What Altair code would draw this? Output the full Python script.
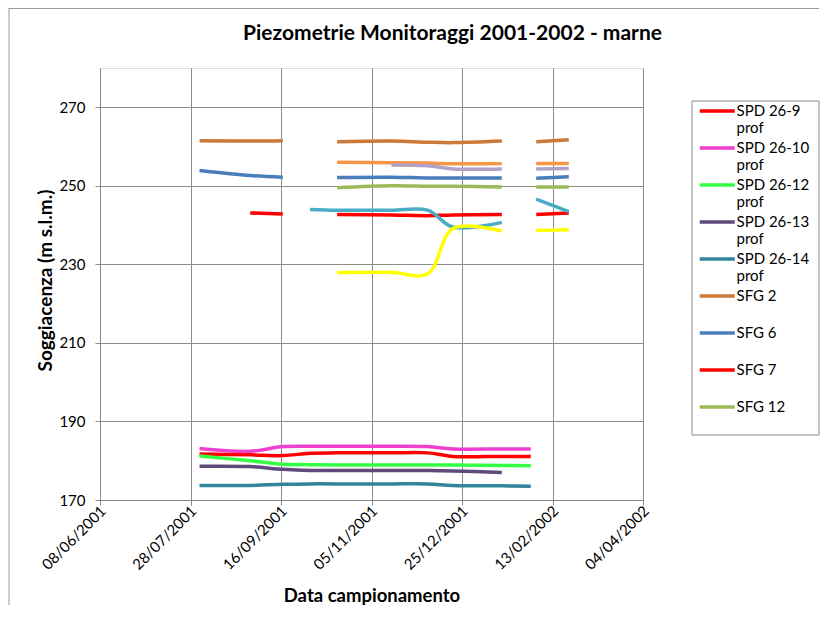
import altair as alt
import pandas as pd

# ---- data -------------------------------------------------------------
dates = ["2001-08-02", "2001-08-30", "2001-09-17", "2001-10-02", "2001-10-17",
         "2001-11-16", "2001-12-06", "2001-12-20", "2002-01-16", "2002-02-01",
         "2002-02-04", "2002-02-22"]

spd_26_9 = [181.7, 181.5, 181.3, 181.9, 182.0, 182.0, 182.0, 181.1, 181.1, 181.1, None, None]
spd_26_10 = [183.1, 182.4, 183.6, 183.7, 183.7, 183.7, 183.6, 183.0, 183.0, 183.0, None, None]
spd_26_12 = [181.2, 180.0, 179.1, 179.0, 178.9, 178.9, 178.9, 178.9, 178.8, 178.7, None, None]
spd_26_13 = [178.6, 178.5, 177.8, 177.5, 177.5, 177.5, 177.5, 177.4, 177.0, None, None, None]
spd_26_14 = [173.7, 173.7, 174.0, 174.1, 174.1, 174.1, 174.1, 173.7, 173.6, 173.5, None, None]
sfg_2 = [261.5, 261.4, 261.5, None, 261.2, 261.4, 261.1, 261.0, 261.4, None, 261.2, 261.7]
sfg_6 = [253.9, 252.6, 252.2, None, 252.1, 252.2, 252.0, 252.0, 252.0, None, 251.9, 252.3]
sfg_7 = [None, 243.1, 242.8, None, 242.7, 242.6, 242.4, 242.6, 242.7, None, 242.7, 243.1]
sfg_12 = [None, None, None, None, 249.5, 250.0, 249.9, 249.9, 249.7, None, 249.7, 249.7]
serie_10 = [None, None, None, None, 256.0, 255.9, 255.8, 255.6, 255.7, None, 255.7, 255.7]
serie_11 = [None, None, None, None, None, 255.3, 255.1, 254.3, 254.3, None, 254.3, 254.4]
serie_12 = [None, None, None, 244.0, 243.8, 243.8, 243.8, 239.5, 240.7, None, 246.6, 243.4]
serie_13 = [None, None, None, None, 227.9, 228.0, 227.6, 239.1, 238.5, None, 238.6, 238.8]

series_names = ["SPD 26-9 prof", "SPD 26-10 prof", "SPD 26-12 prof", "SPD 26-13 prof",
                "SPD 26-14 prof", "SFG 2", "SFG 6", "SFG 7", "SFG 12",
                "Serie 10", "Serie 11", "Serie 12", "Serie 13"]
series_values = [spd_26_9, spd_26_10, spd_26_12, spd_26_13, spd_26_14, sfg_2, sfg_6,
                 sfg_7, sfg_12, serie_10, serie_11, serie_12, serie_13]
series_colors = ["#ff0000", "#ee3fcf", "#33ff44", "#604a7b", "#31859c", "#cc7a3a",
                 "#4a7ebb", "#ff0000", "#9bbb59", "#f79646", "#b3a2c7", "#4bacc6",
                 "#ffff00"]

y_ticks = [170, 190, 210, 230, 250, 270]
x_ticks = [(2001, 6, 8), (2001, 7, 28), (2001, 9, 16), (2001, 11, 5),
           (2001, 12, 25), (2002, 2, 13), (2002, 4, 4)]

# ---- table: split every series into contiguous segments ----------------
rows = []
for idx, (name, vals) in enumerate(zip(series_names, series_values)):
    seg = 0
    for d, v in zip(dates, vals):
        if v is None:
            seg += 1
            continue
        rows.append({"date": d, "value": v, "series": name,
                     "seg": f"{name}_{seg}", "ord": idx})
df = pd.DataFrame(rows)

FONT = "Lato"
W, H = 543, 432

x_vals = [alt.DateTime(year=y, month=m, date=d, utc=True) for (y, m, d) in x_ticks]

lines = alt.Chart(df).mark_line(
    interpolate="catmull-rom", strokeWidth=3.5, strokeCap="butt"
).encode(
    x=alt.X("date:T",
            scale=alt.Scale(type="utc", domain=[x_vals[0], x_vals[-1]], nice=False),
            axis=alt.Axis(values=x_vals,
                          labelExpr="utcFormat(datum.value, '%d/%m/%Y')",
                          labelAngle=-45, labelAlign="right", labelBaseline="middle",
                          labelFont=FONT, labelFontSize=15, labelColor="#000",
                          labelPadding=3, labelOffset=3,
                          tickSize=5, tickColor="#888", domainColor="#888",
                          gridColor="#8c8c8c", labelOverlap=False,
                          title="Data campionamento", titleFont=FONT,
                          titleFontSize=18.5, titleFontWeight="bold", titleColor="#000",
                          titleX=W / 2, titleY=95, titleBaseline="middle")),
    y=alt.Y("value:Q",
            scale=alt.Scale(domain=[170, 280], nice=False, zero=False),
            axis=alt.Axis(values=y_ticks, labelFont=FONT, labelFontSize=15,
                          labelColor="#000", labelPadding=10, tickSize=5,
                          tickColor="#888", domainColor="#888", gridColor="#8c8c8c",
                          title="Soggiacenza (m s.l.m.)", titleFont=FONT,
                          titleFontSize=19, titleFontWeight="bold", titleColor="#000",
                          titleX=-55, titleY=H / 2 - 4, titleBaseline="middle")),
    color=alt.Color("series:N",
                    scale=alt.Scale(domain=series_names, range=series_colors),
                    legend=alt.Legend(
                        orient="none", legendX=615.5, legendY=32.5, title=None,
                        values=series_names[:9],
                        symbolType="M-3,0L1,0", symbolSize=306, symbolStrokeWidth=3.5,
                        labelFont=FONT, labelFontSize=15, labelColor="#000",
                        labelOffset=0, rowPadding=1, padding=0, labelLimit=200,
                        labelExpr="indexof(datum.label, ' prof') > 0 ? [replace(datum.label, ' prof', ''), 'prof'] : [datum.label, ' ']")),
    detail="seg:N",
    order=alt.Order("date:T"),
)

deco = pd.DataFrame({"k": [0]})
legend_box = alt.Chart(deco).mark_rect(fillOpacity=0, stroke="#888", strokeWidth=1).encode(
    x=alt.value(592), x2=alt.value(719), y=alt.value(33), y2=alt.value(367))
frame_left = alt.Chart(deco).mark_rule(color="#999", strokeWidth=1).encode(
    x=alt.value(-91), y=alt.value(-60), y2=alt.value(537))
frame_top = alt.Chart(deco).mark_rule(color="#999", strokeWidth=1).encode(
    x=alt.value(-91), x2=alt.value(719), y=alt.value(-59.5))

chart = alt.layer(frame_left, frame_top, legend_box, lines).properties(
    width=W, height=H,
    autosize=alt.AutoSizeParams(type="none"),
    padding={"left": 92, "top": 60, "right": 177, "bottom": 105},
    title=alt.TitleParams("Piezometrie Monitoraggi 2001-2002 - marne", font=FONT,
                          fontSize=21, fontWeight="bold", color="#000",
                          anchor="middle", frame="group", offset=24, dx=81, dy=60),
).configure_view(fill="#d9d9d9", strokeOpacity=0).configure(background="white")

chart.save("out.html", embed_options={"renderer": "svg", "actions": False})
